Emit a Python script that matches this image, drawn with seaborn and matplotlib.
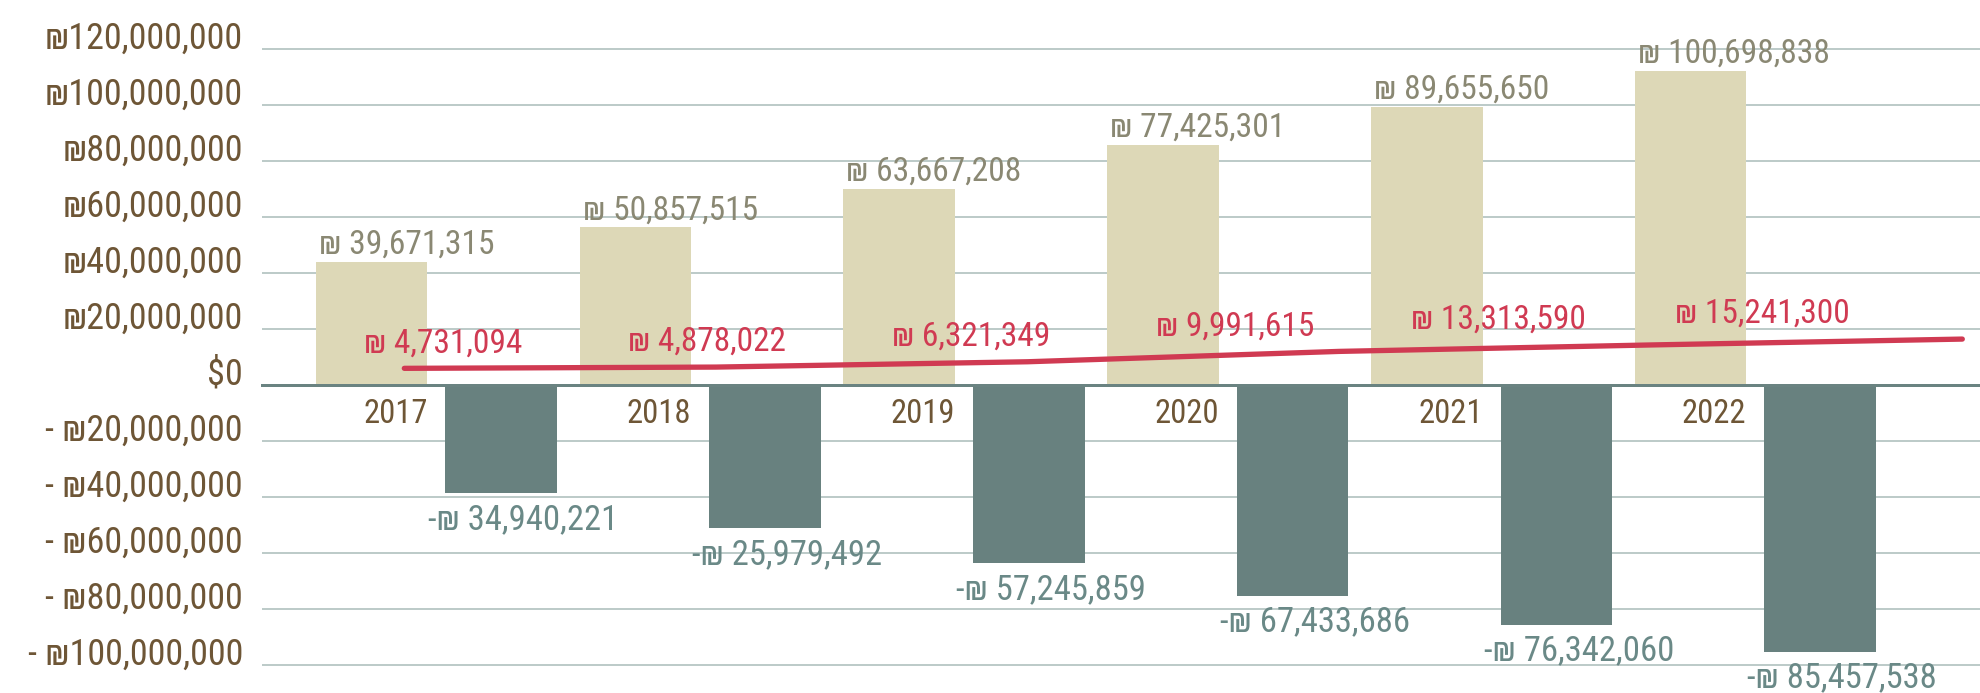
import matplotlib
matplotlib.use("Agg")
import matplotlib.pyplot as plt
from matplotlib import font_manager as fm
from matplotlib.transforms import ScaledTranslation
import seaborn as sns
import pandas as pd
import numpy as np

# ---------------- data ----------------
years = ["2017", "2018", "2019", "2020", "2021", "2022"]
# bar heights as read against the value axis
income_bars = [43.9e6, 56.3e6, 70.0e6, 85.7e6, 99.3e6, 112.1e6]
expense_bars = [-38.5e6, -51.0e6, -63.5e6, -75.2e6, -85.6e6, -95.2e6]
profit_line = [5.95e6, 6.4e6, 8.3e6, 12.0e6, 14.3e6, 16.4e6]
# printed data labels
income_labels = [39671315, 50857515, 63667208, 77425301, 89655650, 100698838]
expense_labels = [34940221, 25979492, 57245859, 67433686, 76342060, 85457538]
profit_labels = [4731094, 4878022, 6321349, 9991615, 13313590, 15241300]
# value axis
ytick_values = [-100e6, -80e6, -60e6, -40e6, -20e6, 0, 20e6, 40e6, 60e6, 80e6, 100e6, 120e6]
ytick_labels = ["- ₪100,000,000", "- ₪80,000,000", "- ₪60,000,000", "- ₪40,000,000",
                "- ₪20,000,000", "$0", "₪20,000,000", "₪40,000,000", "₪60,000,000",
                "₪80,000,000", "₪100,000,000", "₪120,000,000"]

# ---------------- style ----------------
C_INCOME = "#ddd8b7"
C_EXPENSE = "#68817f"
C_RED = "#d03a52"
C_GRID = "#a8bab8"
C_ZERO = "#6a8381"
C_AXTXT = "#6e5636"
C_INC_TXT = "#8a8873"
C_EXP_TXT = "#6a8987"

sns.set_style("white")

def pick_font():
    ents = fm.fontManager.ttflist
    names = {e.name for e in ents}
    for cand in ["Roboto Condensed", "Oswald", "Liberation Sans Narrow", "Open Sans Condensed",
                 "Noto Sans Condensed", "DejaVu Sans Condensed", "Arial Narrow"]:
        if cand in names:
            return cand, "normal"
    for pref in ["Roboto", "Noto Sans", "Open Sans", "DejaVu Sans", "Liberation Sans"]:
        for e in ents:
            if e.name == pref and "condensed" in str(e.stretch).lower():
                return pref, "condensed"
    return "Roboto", "normal"

FONT, STRETCH = pick_font()
FAM = [FONT, "DejaVu Sans"]
plt.rcParams["font.family"] = FAM

W, H, DPI = 1981, 693, 100
fig = plt.figure(figsize=(W / DPI, H / DPI), dpi=DPI)
renderer = fig.canvas.get_renderer()

def fit(sample, target_px, max_pt):
    t = fig.text(0, 0, sample, fontsize=20, family=FAM, fontstretch=STRETCH)
    w = t.get_window_extent(renderer).width
    t.remove()
    return min(max_pt, 20 * target_px / w)

FS_Y = fit("₪120,000,000", 199, 27)
FS_INC = fit("₪ 100,698,838", 192, 25)
FS_EXP = fit("-₪ 34,940,221", 190, 25)
FS_RED = fit("₪ 4,731,094", 158, 24)
FS_YEAR = fit("2017", 64.5, 27)

px = 72.0 / DPI  # points per pixel

left = 262 / W
ax = fig.add_axes([left, 0, 1 - left, 1])

df = pd.DataFrame({
    "year": years * 2,
    "kind": ["Income"] * len(years) + ["Expense"] * len(years),
    "value": income_bars + expense_bars,
})

sns.barplot(data=df, x="year", y="value", hue="kind", hue_order=["Income", "Expense"],
            palette={"Income": C_INCOME, "Expense": C_EXPENSE}, width=0.982, gap=0.139,
            saturation=1, errorbar=None, legend=False, linewidth=0, edgecolor="none", ax=ax)

ax.set_xlim(-0.661, 5.855)
ax.set_ylim(-110e6, 137.5e6)
ax.set_xlabel("")
ax.set_ylabel("")

# grid
ax.set_axisbelow(True)
ax.set_yticks(ytick_values)
ax.set_yticklabels(ytick_labels)
ax.yaxis.grid(True, color=C_GRID, linewidth=1.5 * px)
ax.xaxis.grid(False)
for s in ["left", "right", "top"]:
    ax.spines[s].set_visible(False)
ax.spines["bottom"].set_position(("data", 0))
ax.spines["bottom"].set_color(C_ZERO)
ax.spines["bottom"].set_linewidth(3 * px)
ax.spines["bottom"].set_zorder(5)

ax.tick_params(axis="y", length=0, pad=19 * px, labelsize=FS_Y, labelcolor=C_AXTXT)
for lab in ax.get_yticklabels():
    lab.set_verticalalignment("baseline")
    lab.set_fontstretch(STRETCH)

ax.set_xticks(range(len(years)))
ax.set_xticklabels(years)
ax.tick_params(axis="x", length=0, pad=38 * px, labelsize=FS_YEAR, labelcolor=C_AXTXT)
shift = ScaledTranslation(-9 / DPI, 0, fig.dpi_scale_trans)
for lab in ax.get_xticklabels():
    lab.set_horizontalalignment("right")
    lab.set_verticalalignment("baseline")
    lab.set_fontstretch(STRETCH)
    lab.set_transform(lab.get_transform() + shift)

# data labels for bars
inc_cont, exp_cont = ax.containers[0], ax.containers[1]
for bar, v in zip(inc_cont, income_labels):
    top = max(bar.get_y(), bar.get_y() + bar.get_height())
    ax.annotate(f"₪ {v:,}", (bar.get_x(), top), xytext=(3 * px, 8 * px),
                textcoords="offset points", ha="left", va="baseline", fontsize=FS_INC,
                color=C_INC_TXT, fontstretch=STRETCH, annotation_clip=False)
for bar, v in zip(exp_cont, expense_labels):
    bottom = min(bar.get_y(), bar.get_y() + bar.get_height())
    ax.annotate(f"-₪ {v:,}", (bar.get_x(), bottom), xytext=(-17 * px, -36 * px),
                textcoords="offset points", ha="left", va="baseline", fontsize=FS_EXP,
                color=C_EXP_TXT, fontstretch=STRETCH, annotation_clip=False)

# profit line on its own horizontal scale
ax2 = ax.twiny()
sns.lineplot(x=np.arange(len(years)), y=profit_line, ax=ax2, color=C_RED,
             linewidth=5.3 * px, solid_capstyle="round")
ax2.set_xlim(-0.4567, 5.060)
ax2.set_ylim(ax.get_ylim())
ax2.set_axis_off()

for i, (yv, v) in enumerate(zip(profit_line, profit_labels)):
    ax.annotate(f"₪ {v:,}", (i, yv), xytext=(7 * px, 16 * px), textcoords="offset points",
                ha="center", va="baseline", fontsize=FS_RED, color=C_RED,
                fontstretch=STRETCH, annotation_clip=False)

fig.savefig("out.png", dpi=DPI, facecolor="white")
